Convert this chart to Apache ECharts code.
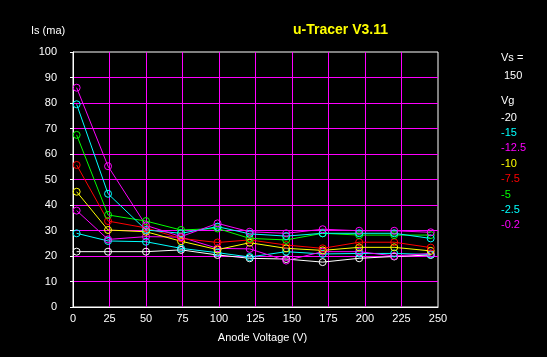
<!DOCTYPE html>
<html><head><meta charset="utf-8">
<script src="https://cdn.jsdelivr.net/npm/echarts@6/dist/echarts.min.js"></script>
<style>html,body{margin:0;padding:0;background:#000;}#c{width:547px;height:357px;}</style>
</head><body><div id="c"></div>
<script>
const anodeV = [2.5, 24, 50, 74, 99, 121, 146, 171, 196, 220, 245];
const gridV = ['-20', '-15', '-12.5', '-10', '-7.5', '-5', '-2.5', '-0.2'];
const colors = ['#ffffff', '#00ffff', '#ff00ff', '#ffff00', '#ff0000', '#00ff00', '#00ffff', '#ff00ff'];
const vg_m20   = [21.7, 21.7, 21.7, 22.4, 20.4, 19.1, 18.8, 17.6, 19.1, 19.8, 20.4];
const vg_m15   = [28.9, 25.9, 25.6, 23.0, 21.3, 19.6, 21.7, 20.8, 21.0, 21.0, 20.6];
const vg_m12_5 = [37.8, 26.5, 27.6, 27.4, 23.0, 22.8, 18.2, 21.7, 21.7, 20.0, 21.0];
const vg_m10   = [45.2, 30.2, 29.5, 25.8, 22.5, 25.2, 23.0, 22.2, 23.4, 23.4, 22.0];
const vg_m7_5  = [55.7, 33.7, 31.0, 26.9, 25.3, 26.3, 24.3, 23.0, 25.4, 25.4, 23.3];
const vg_m5    = [67.5, 36.1, 33.7, 30.2, 30.8, 26.9, 26.3, 28.9, 28.2, 28.2, 28.2];
const vg_m2_5  = [79.5, 44.4, 30.2, 28.9, 31.5, 28.7, 27.8, 28.9, 28.9, 28.9, 26.9];
const vg_m0_2  = [86.0, 55.2, 32.0, 27.6, 32.8, 29.5, 28.9, 30.5, 29.9, 29.9, 29.3];
const seriesVals = [vg_m20, vg_m15, vg_m12_5, vg_m10, vg_m7_5, vg_m5, vg_m2_5, vg_m0_2];
const xTicks = [0, 25, 50, 75, 100, 125, 150, 175, 200, 225, 250];
const yTicks = [0, 10, 20, 30, 40, 50, 60, 70, 80, 90, 100];

const FONT = 'Liberation Sans';
const FS = 11;
const chart = echarts.init(document.getElementById('c'));
const series = seriesVals.map((vals, i) => ({
  name: gridV[i], type: 'line',
  data: vals.map((v, j) => [anodeV[j], v]),
  symbol: 'circle', symbolSize: 7,
  lineStyle: { color: colors[i], width: 1 },
  itemStyle: { color: 'rgba(0,0,0,0)', borderColor: colors[i], borderWidth: 1 },
  emphasis: { disabled: true },
  animation: false
}));
const legendTexts = gridV.map((g, i) => ({
  type: 'text', left: 501, top: 112 + i * 15.4,
  style: { text: g, fill: colors[i], font: FS + 'px ' + FONT }
}));
chart.setOption({
  backgroundColor: '#000',
  animation: false,
  grid: { left: 73, right: 109, top: 52, bottom: 50, show: true, borderColor: '#fff', borderWidth: 1, backgroundColor: '#000' },
  xAxis: {
    type: 'value', min: 0, max: 250, interval: 25,
    axisLine: { lineStyle: { color: '#fff', width: 1 } },
    axisTick: { show: false },
    splitLine: { show: true, showMaxLine: false, lineStyle: { color: '#ff00ff', width: 1 } },
    axisLabel: { color: '#fff', fontFamily: FONT, fontSize: FS, margin: 6,
      formatter: v => xTicks.includes(v) ? String(v) : '' },
    name: 'Anode Voltage (V)', nameLocation: 'middle', nameGap: 25,
    nameTextStyle: { color: '#fff', fontFamily: FONT, fontSize: FS, padding: [0, 0, 0, 14] }
  },
  yAxis: {
    type: 'value', min: 0, max: 100, interval: 10,
    axisLine: { show: true, lineStyle: { color: '#fff', width: 1 } },
    axisTick: { show: true, length: 3, lineStyle: { color: '#fff' } },
    splitLine: { show: true, showMaxLine: false, lineStyle: { color: '#ff00ff', width: 1 } },
    axisLabel: { color: '#fff', fontFamily: FONT, fontSize: FS, margin: 16,
      formatter: v => yTicks.includes(v) ? String(v) : '' }
  },
  graphic: [
    { type: 'text', left: 31, top: 25, style: { text: 'Is (ma)', fill: '#fff', font: FS + 'px ' + FONT } },
    { type: 'text', left: 293, top: 23, style: { text: 'u-Tracer V3.11', fill: '#ffff00', font: 'bold 14px ' + FONT } },
    { type: 'text', left: 501, top: 52, style: { text: 'Vs =', fill: '#fff', font: FS + 'px ' + FONT } },
    { type: 'text', left: 504, top: 70, style: { text: '150', fill: '#fff', font: FS + 'px ' + FONT } },
    { type: 'text', left: 501, top: 95, style: { text: 'Vg', fill: '#fff', font: FS + 'px ' + FONT } },
    ...legendTexts
  ],
  series: series
});
</script></body></html>
